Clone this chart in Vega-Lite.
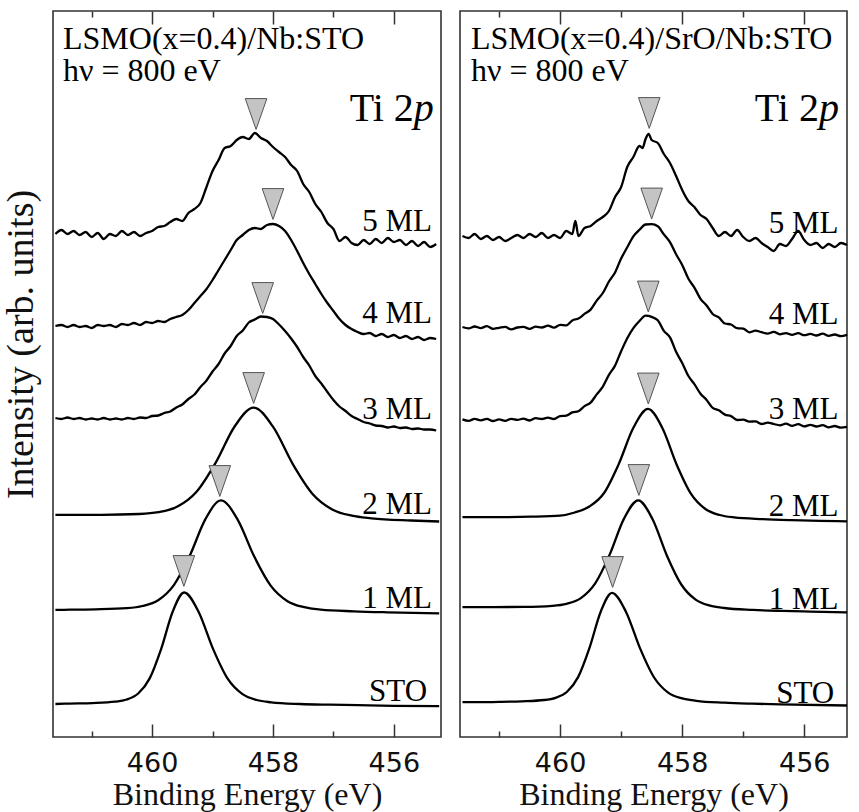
{
"$schema": "https://vega.github.io/schema/vega-lite/v6.json",
"autosize": {"type": "pad"},
"padding": {"left": 1, "top": 9, "right": 5, "bottom": 5},
"background": "white",
"spacing": 17,
"config": {
"view": {"stroke": "#333", "strokeWidth": 1.6},
"axis": {"grid": false, "domain": false, "tickColor": "#333", "tickWidth": 1.5, "labelFont": "DejaVu Sans", "labelFontSize": 27, "labelColor": "#111", "labelFlush": false, "titleFont": "Liberation Serif", "titleFontSize": 32, "titleFontWeight": "normal", "titleColor": "#111"}
},
"datasets": {
"curves": [
{"panel":"L","sample":"STO","E":461.6,"I":33.0},{"panel":"L","sample":"STO","E":461.37,"I":33.4},{"panel":"L","sample":"STO","E":460.99,"I":33.9},{"panel":"L","sample":"STO","E":460.61,"I":35.3},{"panel":"L","sample":"STO","E":460.42,"I":37.5},{"panel":"L","sample":"STO","E":460.23,"I":43.5},{"panel":"L","sample":"STO","E":460.04,"I":58.6},{"panel":"L","sample":"STO","E":459.85,"I":88.1},{"panel":"L","sample":"STO","E":459.66,"I":125.3},{"panel":"L","sample":"STO","E":459.47,"I":144.5},{"panel":"L","sample":"STO","E":459.23,"I":125.1},{"panel":"L","sample":"STO","E":458.99,"I":87.9},{"panel":"L","sample":"STO","E":458.75,"I":58.3},{"panel":"L","sample":"STO","E":458.51,"I":43.1},{"panel":"L","sample":"STO","E":458.27,"I":37.0},{"panel":"L","sample":"STO","E":458.03,"I":34.7},{"panel":"L","sample":"STO","E":457.55,"I":33.0},{"panel":"L","sample":"STO","E":457.07,"I":32.3},{"panel":"L","sample":"STO","E":456.59,"I":31.8},{"panel":"L","sample":"STO","E":456.0,"I":31.2},{"panel":"L","sample":"STO","E":455.25,"I":30.9},
{"panel":"L","sample":"1 ML","E":461.6,"I":127.1},{"panel":"L","sample":"1 ML","E":461.46,"I":127.2},{"panel":"L","sample":"1 ML","E":460.94,"I":127.7},{"panel":"L","sample":"1 ML","E":460.42,"I":128.9},{"panel":"L","sample":"1 ML","E":460.16,"I":131.0},{"panel":"L","sample":"1 ML","E":459.9,"I":136.8},{"panel":"L","sample":"1 ML","E":459.64,"I":151.9},{"panel":"L","sample":"1 ML","E":459.38,"I":180.9},{"panel":"L","sample":"1 ML","E":459.12,"I":217.6},{"panel":"L","sample":"1 ML","E":458.86,"I":236.7},{"panel":"L","sample":"1 ML","E":458.585,"I":217.4},{"panel":"L","sample":"1 ML","E":458.31,"I":180.4},{"panel":"L","sample":"1 ML","E":458.035,"I":151.1},{"panel":"L","sample":"1 ML","E":457.76,"I":135.8},{"panel":"L","sample":"1 ML","E":457.485,"I":129.8},{"panel":"L","sample":"1 ML","E":457.21,"I":127.4},{"panel":"L","sample":"1 ML","E":456.66,"I":125.7},{"panel":"L","sample":"1 ML","E":456.11,"I":124.7},{"panel":"L","sample":"1 ML","E":455.25,"I":123.7},
{"panel":"L","sample":"2 ML","E":461.6,"I":222.1},{"panel":"L","sample":"2 ML","E":461.47,"I":222.2},{"panel":"L","sample":"2 ML","E":460.84,"I":222.2},{"panel":"L","sample":"2 ML","E":460.21,"I":223.0},{"panel":"L","sample":"2 ML","E":459.895,"I":224.8},{"panel":"L","sample":"2 ML","E":459.58,"I":230.4},{"panel":"L","sample":"2 ML","E":459.265,"I":245.2},{"panel":"L","sample":"2 ML","E":458.95,"I":274.1},{"panel":"L","sample":"2 ML","E":458.635,"I":310.5},{"panel":"L","sample":"2 ML","E":458.32,"I":329.4},{"panel":"L","sample":"2 ML","E":457.995,"I":309.8},{"panel":"L","sample":"2 ML","E":457.67,"I":272.7},{"panel":"L","sample":"2 ML","E":457.345,"I":243.1},{"panel":"L","sample":"2 ML","E":457.02,"I":227.6},{"panel":"L","sample":"2 ML","E":456.695,"I":221.3},{"panel":"L","sample":"2 ML","E":456.37,"I":218.7},{"panel":"L","sample":"2 ML","E":455.72,"I":216.5},{"panel":"L","sample":"2 ML","E":455.25,"I":215.5},
{"panel":"L","sample":"3 ML","E":461.6,"I":319},{"panel":"L","sample":"3 ML","E":461.5,"I":318},{"panel":"L","sample":"3 ML","E":461.4,"I":319.5},{"panel":"L","sample":"3 ML","E":461.3,"I":318},{"panel":"L","sample":"3 ML","E":461.2,"I":319},{"panel":"L","sample":"3 ML","E":461.1,"I":317.5},{"panel":"L","sample":"3 ML","E":461.0,"I":318.5},{"panel":"L","sample":"3 ML","E":460.9,"I":317.5},{"panel":"L","sample":"3 ML","E":460.8,"I":319},{"panel":"L","sample":"3 ML","E":460.7,"I":317.5},{"panel":"L","sample":"3 ML","E":460.6,"I":318.5},{"panel":"L","sample":"3 ML","E":460.5,"I":317.5},{"panel":"L","sample":"3 ML","E":460.4,"I":319},{"panel":"L","sample":"3 ML","E":460.3,"I":318},{"panel":"L","sample":"3 ML","E":460.2,"I":319.5},{"panel":"L","sample":"3 ML","E":460.1,"I":319},{"panel":"L","sample":"3 ML","E":460.0,"I":321},{"panel":"L","sample":"3 ML","E":459.9,"I":321.5},{"panel":"L","sample":"3 ML","E":459.8,"I":324},{"panel":"L","sample":"3 ML","E":459.7,"I":325.5},{"panel":"L","sample":"3 ML","E":459.6,"I":329.5},{"panel":"L","sample":"3 ML","E":459.5,"I":332.5},{"panel":"L","sample":"3 ML","E":459.4,"I":338},{"panel":"L","sample":"3 ML","E":459.3,"I":342.5},{"panel":"L","sample":"3 ML","E":459.2,"I":350},{"panel":"L","sample":"3 ML","E":459.1,"I":356.5},{"panel":"L","sample":"3 ML","E":459.0,"I":365.5},{"panel":"L","sample":"3 ML","E":458.9,"I":373},{"panel":"L","sample":"3 ML","E":458.8,"I":383.5},{"panel":"L","sample":"3 ML","E":458.7,"I":391},{"panel":"L","sample":"3 ML","E":458.6,"I":401},{"panel":"L","sample":"3 ML","E":458.5,"I":406.5},{"panel":"L","sample":"3 ML","E":458.4,"I":414.5},{"panel":"L","sample":"3 ML","E":458.3,"I":417.5},{"panel":"L","sample":"3 ML","E":458.2,"I":420.5},{"panel":"L","sample":"3 ML","E":458.1,"I":420},{"panel":"L","sample":"3 ML","E":458.0,"I":418},{"panel":"L","sample":"3 ML","E":457.9,"I":412.5},{"panel":"L","sample":"3 ML","E":457.8,"I":406},{"panel":"L","sample":"3 ML","E":457.7,"I":398.5},{"panel":"L","sample":"3 ML","E":457.6,"I":390},{"panel":"L","sample":"3 ML","E":457.5,"I":380},{"panel":"L","sample":"3 ML","E":457.4,"I":371.5},{"panel":"L","sample":"3 ML","E":457.3,"I":361},{"panel":"L","sample":"3 ML","E":457.2,"I":353.5},{"panel":"L","sample":"3 ML","E":457.1,"I":345},{"panel":"L","sample":"3 ML","E":457.0,"I":337},{"panel":"L","sample":"3 ML","E":456.9,"I":330.5},{"panel":"L","sample":"3 ML","E":456.8,"I":326},{"panel":"L","sample":"3 ML","E":456.7,"I":321},{"panel":"L","sample":"3 ML","E":456.6,"I":318},{"panel":"L","sample":"3 ML","E":456.5,"I":315},{"panel":"L","sample":"3 ML","E":456.4,"I":313.5},{"panel":"L","sample":"3 ML","E":456.3,"I":311.5},{"panel":"L","sample":"3 ML","E":456.2,"I":311},{"panel":"L","sample":"3 ML","E":456.1,"I":309.5},{"panel":"L","sample":"3 ML","E":456.0,"I":310.5},{"panel":"L","sample":"3 ML","E":455.9,"I":309},{"panel":"L","sample":"3 ML","E":455.8,"I":309.5},{"panel":"L","sample":"3 ML","E":455.7,"I":308},{"panel":"L","sample":"3 ML","E":455.6,"I":308.5},{"panel":"L","sample":"3 ML","E":455.5,"I":307.5},{"panel":"L","sample":"3 ML","E":455.4,"I":307.5},{"panel":"L","sample":"3 ML","E":455.3,"I":306.5},
{"panel":"L","sample":"4 ML","E":461.6,"I":411},{"panel":"L","sample":"4 ML","E":461.5,"I":412},{"panel":"L","sample":"4 ML","E":461.4,"I":410},{"panel":"L","sample":"4 ML","E":461.3,"I":412},{"panel":"L","sample":"4 ML","E":461.2,"I":410},{"panel":"L","sample":"4 ML","E":461.1,"I":411},{"panel":"L","sample":"4 ML","E":461.0,"I":409},{"panel":"L","sample":"4 ML","E":460.9,"I":412},{"panel":"L","sample":"4 ML","E":460.8,"I":411},{"panel":"L","sample":"4 ML","E":460.7,"I":412},{"panel":"L","sample":"4 ML","E":460.6,"I":410},{"panel":"L","sample":"4 ML","E":460.5,"I":413},{"panel":"L","sample":"4 ML","E":460.4,"I":412},{"panel":"L","sample":"4 ML","E":460.3,"I":414},{"panel":"L","sample":"4 ML","E":460.2,"I":412},{"panel":"L","sample":"4 ML","E":460.1,"I":415},{"panel":"L","sample":"4 ML","E":460.0,"I":414},{"panel":"L","sample":"4 ML","E":459.9,"I":416},{"panel":"L","sample":"4 ML","E":459.8,"I":415},{"panel":"L","sample":"4 ML","E":459.7,"I":418},{"panel":"L","sample":"4 ML","E":459.6,"I":420},{"panel":"L","sample":"4 ML","E":459.5,"I":422},{"panel":"L","sample":"4 ML","E":459.4,"I":427},{"panel":"L","sample":"4 ML","E":459.3,"I":434},{"panel":"L","sample":"4 ML","E":459.2,"I":441},{"panel":"L","sample":"4 ML","E":459.1,"I":448},{"panel":"L","sample":"4 ML","E":459.0,"I":457},{"panel":"L","sample":"4 ML","E":458.9,"I":467},{"panel":"L","sample":"4 ML","E":458.8,"I":477},{"panel":"L","sample":"4 ML","E":458.7,"I":487},{"panel":"L","sample":"4 ML","E":458.6,"I":497},{"panel":"L","sample":"4 ML","E":458.5,"I":502},{"panel":"L","sample":"4 ML","E":458.4,"I":507},{"panel":"L","sample":"4 ML","E":458.3,"I":509},{"panel":"L","sample":"4 ML","E":458.2,"I":508},{"panel":"L","sample":"4 ML","E":458.1,"I":512},{"panel":"L","sample":"4 ML","E":458.0,"I":513},{"panel":"L","sample":"4 ML","E":457.9,"I":511},{"panel":"L","sample":"4 ML","E":457.8,"I":506},{"panel":"L","sample":"4 ML","E":457.7,"I":497},{"panel":"L","sample":"4 ML","E":457.6,"I":486},{"panel":"L","sample":"4 ML","E":457.5,"I":474},{"panel":"L","sample":"4 ML","E":457.4,"I":463},{"panel":"L","sample":"4 ML","E":457.3,"I":453},{"panel":"L","sample":"4 ML","E":457.2,"I":443},{"panel":"L","sample":"4 ML","E":457.1,"I":434},{"panel":"L","sample":"4 ML","E":457.0,"I":426},{"panel":"L","sample":"4 ML","E":456.9,"I":418},{"panel":"L","sample":"4 ML","E":456.8,"I":412},{"panel":"L","sample":"4 ML","E":456.7,"I":408},{"panel":"L","sample":"4 ML","E":456.6,"I":405},{"panel":"L","sample":"4 ML","E":456.5,"I":403},{"panel":"L","sample":"4 ML","E":456.4,"I":404},{"panel":"L","sample":"4 ML","E":456.3,"I":401},{"panel":"L","sample":"4 ML","E":456.2,"I":403},{"panel":"L","sample":"4 ML","E":456.1,"I":400},{"panel":"L","sample":"4 ML","E":456.0,"I":402},{"panel":"L","sample":"4 ML","E":455.9,"I":399},{"panel":"L","sample":"4 ML","E":455.8,"I":401},{"panel":"L","sample":"4 ML","E":455.7,"I":398},{"panel":"L","sample":"4 ML","E":455.6,"I":400},{"panel":"L","sample":"4 ML","E":455.5,"I":397},{"panel":"L","sample":"4 ML","E":455.4,"I":399},{"panel":"L","sample":"4 ML","E":455.3,"I":398},
{"panel":"L","sample":"5 ML","E":461.6,"I":503},{"panel":"L","sample":"5 ML","E":461.5,"I":507},{"panel":"L","sample":"5 ML","E":461.4,"I":503},{"panel":"L","sample":"5 ML","E":461.3,"I":506},{"panel":"L","sample":"5 ML","E":461.2,"I":502},{"panel":"L","sample":"5 ML","E":461.1,"I":505},{"panel":"L","sample":"5 ML","E":461.0,"I":500},{"panel":"L","sample":"5 ML","E":460.9,"I":504},{"panel":"L","sample":"5 ML","E":460.8,"I":498},{"panel":"L","sample":"5 ML","E":460.7,"I":503},{"panel":"L","sample":"5 ML","E":460.6,"I":501},{"panel":"L","sample":"5 ML","E":460.5,"I":506},{"panel":"L","sample":"5 ML","E":460.4,"I":502},{"panel":"L","sample":"5 ML","E":460.3,"I":505},{"panel":"L","sample":"5 ML","E":460.2,"I":501},{"panel":"L","sample":"5 ML","E":460.1,"I":504},{"panel":"L","sample":"5 ML","E":460.0,"I":506},{"panel":"L","sample":"5 ML","E":459.9,"I":510},{"panel":"L","sample":"5 ML","E":459.8,"I":511},{"panel":"L","sample":"5 ML","E":459.7,"I":515},{"panel":"L","sample":"5 ML","E":459.6,"I":518},{"panel":"L","sample":"5 ML","E":459.5,"I":516},{"panel":"L","sample":"5 ML","E":459.4,"I":524},{"panel":"L","sample":"5 ML","E":459.3,"I":528},{"panel":"L","sample":"5 ML","E":459.2,"I":534},{"panel":"L","sample":"5 ML","E":459.1,"I":550},{"panel":"L","sample":"5 ML","E":459.0,"I":566},{"panel":"L","sample":"5 ML","E":458.9,"I":577},{"panel":"L","sample":"5 ML","E":458.8,"I":589},{"panel":"L","sample":"5 ML","E":458.7,"I":591},{"panel":"L","sample":"5 ML","E":458.6,"I":597},{"panel":"L","sample":"5 ML","E":458.5,"I":600},{"panel":"L","sample":"5 ML","E":458.4,"I":598},{"panel":"L","sample":"5 ML","E":458.3,"I":604},{"panel":"L","sample":"5 ML","E":458.2,"I":599},{"panel":"L","sample":"5 ML","E":458.1,"I":596},{"panel":"L","sample":"5 ML","E":458.0,"I":590},{"panel":"L","sample":"5 ML","E":457.9,"I":585},{"panel":"L","sample":"5 ML","E":457.8,"I":580},{"panel":"L","sample":"5 ML","E":457.7,"I":572},{"panel":"L","sample":"5 ML","E":457.6,"I":566},{"panel":"L","sample":"5 ML","E":457.5,"I":553},{"panel":"L","sample":"5 ML","E":457.4,"I":545},{"panel":"L","sample":"5 ML","E":457.3,"I":533},{"panel":"L","sample":"5 ML","E":457.2,"I":525},{"panel":"L","sample":"5 ML","E":457.1,"I":514},{"panel":"L","sample":"5 ML","E":457.0,"I":508},{"panel":"L","sample":"5 ML","E":456.9,"I":496},{"panel":"L","sample":"5 ML","E":456.8,"I":500},{"panel":"L","sample":"5 ML","E":456.7,"I":494},{"panel":"L","sample":"5 ML","E":456.6,"I":492},{"panel":"L","sample":"5 ML","E":456.5,"I":497},{"panel":"L","sample":"5 ML","E":456.4,"I":493},{"panel":"L","sample":"5 ML","E":456.3,"I":498},{"panel":"L","sample":"5 ML","E":456.2,"I":494},{"panel":"L","sample":"5 ML","E":456.1,"I":499},{"panel":"L","sample":"5 ML","E":456.0,"I":495},{"panel":"L","sample":"5 ML","E":455.9,"I":497},{"panel":"L","sample":"5 ML","E":455.8,"I":492},{"panel":"L","sample":"5 ML","E":455.7,"I":496},{"panel":"L","sample":"5 ML","E":455.6,"I":491},{"panel":"L","sample":"5 ML","E":455.5,"I":495},{"panel":"L","sample":"5 ML","E":455.4,"I":490},{"panel":"L","sample":"5 ML","E":455.3,"I":493},
{"panel":"R","sample":"STO","E":461.6,"I":34.8},{"panel":"R","sample":"STO","E":461.37,"I":34.8},{"panel":"R","sample":"STO","E":461.0,"I":35.1},{"panel":"R","sample":"STO","E":460.63,"I":35.7},{"panel":"R","sample":"STO","E":460.26,"I":37.0},{"panel":"R","sample":"STO","E":460.075,"I":39.2},{"panel":"R","sample":"STO","E":459.89,"I":45.0},{"panel":"R","sample":"STO","E":459.705,"I":59.9},{"panel":"R","sample":"STO","E":459.52,"I":88.9},{"panel":"R","sample":"STO","E":459.335,"I":125.3},{"panel":"R","sample":"STO","E":459.15,"I":144.2},{"panel":"R","sample":"STO","E":458.92,"I":125.1},{"panel":"R","sample":"STO","E":458.69,"I":88.6},{"panel":"R","sample":"STO","E":458.46,"I":59.5},{"panel":"R","sample":"STO","E":458.23,"I":44.4},{"panel":"R","sample":"STO","E":458.0,"I":38.6},{"panel":"R","sample":"STO","E":457.77,"I":36.2},{"panel":"R","sample":"STO","E":457.31,"I":34.3},{"panel":"R","sample":"STO","E":456.85,"I":33.3},{"panel":"R","sample":"STO","E":456.39,"I":32.6},{"panel":"R","sample":"STO","E":455.3,"I":31.5},
{"panel":"R","sample":"1 ML","E":461.6,"I":129.8},{"panel":"R","sample":"1 ML","E":461.07,"I":129.9},{"panel":"R","sample":"1 ML","E":460.6,"I":130.1},{"panel":"R","sample":"1 ML","E":460.13,"I":131.2},{"panel":"R","sample":"1 ML","E":459.895,"I":133.2},{"panel":"R","sample":"1 ML","E":459.66,"I":138.9},{"panel":"R","sample":"1 ML","E":459.425,"I":153.6},{"panel":"R","sample":"1 ML","E":459.19,"I":182.1},{"panel":"R","sample":"1 ML","E":458.955,"I":218.1},{"panel":"R","sample":"1 ML","E":458.72,"I":236.7},{"panel":"R","sample":"1 ML","E":458.485,"I":217.7},{"panel":"R","sample":"1 ML","E":458.25,"I":181.3},{"panel":"R","sample":"1 ML","E":458.015,"I":152.5},{"panel":"R","sample":"1 ML","E":457.78,"I":137.4},{"panel":"R","sample":"1 ML","E":457.545,"I":131.4},{"panel":"R","sample":"1 ML","E":457.31,"I":129.0},{"panel":"R","sample":"1 ML","E":456.84,"I":127.1},{"panel":"R","sample":"1 ML","E":456.37,"I":126.1},{"panel":"R","sample":"1 ML","E":455.9,"I":125.4},{"panel":"R","sample":"1 ML","E":455.3,"I":124.6},
{"panel":"R","sample":"2 ML","E":461.6,"I":219.8},{"panel":"R","sample":"2 ML","E":460.96,"I":219.9},{"panel":"R","sample":"2 ML","E":460.48,"I":220.3},{"panel":"R","sample":"2 ML","E":460.0,"I":221.4},{"panel":"R","sample":"2 ML","E":459.76,"I":224.5},{"panel":"R","sample":"2 ML","E":459.52,"I":230.5},{"panel":"R","sample":"2 ML","E":459.28,"I":244.0},{"panel":"R","sample":"2 ML","E":459.04,"I":272.9},{"panel":"R","sample":"2 ML","E":458.8,"I":309.2},{"panel":"R","sample":"2 ML","E":458.56,"I":328.1},{"panel":"R","sample":"2 ML","E":458.325,"I":309.0},{"panel":"R","sample":"2 ML","E":458.09,"I":272.3},{"panel":"R","sample":"2 ML","E":457.855,"I":243.1},{"panel":"R","sample":"2 ML","E":457.62,"I":228.0},{"panel":"R","sample":"2 ML","E":457.385,"I":222.0},{"panel":"R","sample":"2 ML","E":457.15,"I":219.6},{"panel":"R","sample":"2 ML","E":456.68,"I":217.9},{"panel":"R","sample":"2 ML","E":456.21,"I":216.9},{"panel":"R","sample":"2 ML","E":455.74,"I":216.2},{"panel":"R","sample":"2 ML","E":455.3,"I":215.7},
{"panel":"R","sample":"3 ML","E":461.6,"I":317.6},{"panel":"R","sample":"3 ML","E":461.5,"I":316.1},{"panel":"R","sample":"3 ML","E":461.4,"I":318.1},{"panel":"R","sample":"3 ML","E":461.3,"I":316.6},{"panel":"R","sample":"3 ML","E":461.2,"I":318.1},{"panel":"R","sample":"3 ML","E":461.1,"I":316},{"panel":"R","sample":"3 ML","E":461.0,"I":317.6},{"panel":"R","sample":"3 ML","E":460.9,"I":316.1},{"panel":"R","sample":"3 ML","E":460.8,"I":318.2},{"panel":"R","sample":"3 ML","E":460.7,"I":317.2},{"panel":"R","sample":"3 ML","E":460.6,"I":318.3},{"panel":"R","sample":"3 ML","E":460.5,"I":316.5},{"panel":"R","sample":"3 ML","E":460.4,"I":318.8},{"panel":"R","sample":"3 ML","E":460.3,"I":318},{"panel":"R","sample":"3 ML","E":460.2,"I":319.4},{"panel":"R","sample":"3 ML","E":460.1,"I":318},{"panel":"R","sample":"3 ML","E":460.0,"I":320.8},{"panel":"R","sample":"3 ML","E":459.9,"I":321.3},{"panel":"R","sample":"3 ML","E":459.8,"I":324.6},{"panel":"R","sample":"3 ML","E":459.7,"I":325.8},{"panel":"R","sample":"3 ML","E":459.6,"I":330.9},{"panel":"R","sample":"3 ML","E":459.5,"I":334.4},{"panel":"R","sample":"3 ML","E":459.4,"I":342.6},{"panel":"R","sample":"3 ML","E":459.3,"I":350.4},{"panel":"R","sample":"3 ML","E":459.2,"I":362.1},{"panel":"R","sample":"3 ML","E":459.1,"I":371.4},{"panel":"R","sample":"3 ML","E":459.0,"I":385.8},{"panel":"R","sample":"3 ML","E":458.9,"I":398.8},{"panel":"R","sample":"3 ML","E":458.8,"I":408.9},{"panel":"R","sample":"3 ML","E":458.7,"I":416},{"panel":"R","sample":"3 ML","E":458.6,"I":421.4},{"panel":"R","sample":"3 ML","E":458.5,"I":420.1},{"panel":"R","sample":"3 ML","E":458.4,"I":416.7},{"panel":"R","sample":"3 ML","E":458.3,"I":406.1},{"panel":"R","sample":"3 ML","E":458.2,"I":399.7},{"panel":"R","sample":"3 ML","E":458.1,"I":385.2},{"panel":"R","sample":"3 ML","E":458.0,"I":374},{"panel":"R","sample":"3 ML","E":457.9,"I":361.2},{"panel":"R","sample":"3 ML","E":457.8,"I":352.8},{"panel":"R","sample":"3 ML","E":457.7,"I":343.3},{"panel":"R","sample":"3 ML","E":457.6,"I":337.1},{"panel":"R","sample":"3 ML","E":457.5,"I":329.1},{"panel":"R","sample":"3 ML","E":457.4,"I":326.7},{"panel":"R","sample":"3 ML","E":457.3,"I":322.4},{"panel":"R","sample":"3 ML","E":457.2,"I":320.9},{"panel":"R","sample":"3 ML","E":457.1,"I":317},{"panel":"R","sample":"3 ML","E":457.0,"I":317.3},{"panel":"R","sample":"3 ML","E":456.9,"I":315.4},{"panel":"R","sample":"3 ML","E":456.8,"I":315.6},{"panel":"R","sample":"3 ML","E":456.7,"I":313},{"panel":"R","sample":"3 ML","E":456.6,"I":314.4},{"panel":"R","sample":"3 ML","E":456.5,"I":313},{"panel":"R","sample":"3 ML","E":456.4,"I":311.7},{"panel":"R","sample":"3 ML","E":456.3,"I":313.4},{"panel":"R","sample":"3 ML","E":456.2,"I":311.1},{"panel":"R","sample":"3 ML","E":456.1,"I":312.8},{"panel":"R","sample":"3 ML","E":456.0,"I":310.6},{"panel":"R","sample":"3 ML","E":455.9,"I":312.2},{"panel":"R","sample":"3 ML","E":455.8,"I":310.5},{"panel":"R","sample":"3 ML","E":455.7,"I":311.8},{"panel":"R","sample":"3 ML","E":455.6,"I":309.7},{"panel":"R","sample":"3 ML","E":455.5,"I":311},{"panel":"R","sample":"3 ML","E":455.4,"I":309.3},{"panel":"R","sample":"3 ML","E":455.3,"I":310.1},
{"panel":"R","sample":"4 ML","E":461.6,"I":410},{"panel":"R","sample":"4 ML","E":461.5,"I":408.6},{"panel":"R","sample":"4 ML","E":461.4,"I":410.5},{"panel":"R","sample":"4 ML","E":461.3,"I":408.9},{"panel":"R","sample":"4 ML","E":461.2,"I":410.9},{"panel":"R","sample":"4 ML","E":461.1,"I":408.2},{"panel":"R","sample":"4 ML","E":461.0,"I":409.2},{"panel":"R","sample":"4 ML","E":460.9,"I":410.1},{"panel":"R","sample":"4 ML","E":460.8,"I":407.6},{"panel":"R","sample":"4 ML","E":460.7,"I":409.5},{"panel":"R","sample":"4 ML","E":460.6,"I":410.1},{"panel":"R","sample":"4 ML","E":460.5,"I":408.2},{"panel":"R","sample":"4 ML","E":460.4,"I":410.3},{"panel":"R","sample":"4 ML","E":460.3,"I":409.5},{"panel":"R","sample":"4 ML","E":460.2,"I":411.3},{"panel":"R","sample":"4 ML","E":460.1,"I":409.4},{"panel":"R","sample":"4 ML","E":460.0,"I":412.2},{"panel":"R","sample":"4 ML","E":459.9,"I":411.6},{"panel":"R","sample":"4 ML","E":459.8,"I":416.6},{"panel":"R","sample":"4 ML","E":459.7,"I":418.4},{"panel":"R","sample":"4 ML","E":459.6,"I":423.1},{"panel":"R","sample":"4 ML","E":459.5,"I":427.4},{"panel":"R","sample":"4 ML","E":459.4,"I":436.4},{"panel":"R","sample":"4 ML","E":459.3,"I":444},{"panel":"R","sample":"4 ML","E":459.2,"I":455.5},{"panel":"R","sample":"4 ML","E":459.1,"I":464.5},{"panel":"R","sample":"4 ML","E":459.0,"I":478.5},{"panel":"R","sample":"4 ML","E":458.9,"I":489.7},{"panel":"R","sample":"4 ML","E":458.8,"I":500.6},{"panel":"R","sample":"4 ML","E":458.7,"I":507.2},{"panel":"R","sample":"4 ML","E":458.6,"I":512.5},{"panel":"R","sample":"4 ML","E":458.5,"I":512.8},{"panel":"R","sample":"4 ML","E":458.4,"I":510.7},{"panel":"R","sample":"4 ML","E":458.3,"I":502.6},{"panel":"R","sample":"4 ML","E":458.2,"I":494.9},{"panel":"R","sample":"4 ML","E":458.1,"I":482.7},{"panel":"R","sample":"4 ML","E":458.0,"I":472.1},{"panel":"R","sample":"4 ML","E":457.9,"I":458.5},{"panel":"R","sample":"4 ML","E":457.8,"I":449.4},{"panel":"R","sample":"4 ML","E":457.7,"I":438.2},{"panel":"R","sample":"4 ML","E":457.6,"I":431.5},{"panel":"R","sample":"4 ML","E":457.5,"I":423},{"panel":"R","sample":"4 ML","E":457.4,"I":419.6},{"panel":"R","sample":"4 ML","E":457.3,"I":413.5},{"panel":"R","sample":"4 ML","E":457.2,"I":412.5},{"panel":"R","sample":"4 ML","E":457.1,"I":408.8},{"panel":"R","sample":"4 ML","E":457.0,"I":408.3},{"panel":"R","sample":"4 ML","E":456.9,"I":404.7},{"panel":"R","sample":"4 ML","E":456.8,"I":406.4},{"panel":"R","sample":"4 ML","E":456.7,"I":404.8},{"panel":"R","sample":"4 ML","E":456.6,"I":403.4},{"panel":"R","sample":"4 ML","E":456.5,"I":405.1},{"panel":"R","sample":"4 ML","E":456.4,"I":402.7},{"panel":"R","sample":"4 ML","E":456.3,"I":403.9},{"panel":"R","sample":"4 ML","E":456.2,"I":402.2},{"panel":"R","sample":"4 ML","E":456.1,"I":403.9},{"panel":"R","sample":"4 ML","E":456.0,"I":401.8},{"panel":"R","sample":"4 ML","E":455.9,"I":403.1},{"panel":"R","sample":"4 ML","E":455.8,"I":401.5},{"panel":"R","sample":"4 ML","E":455.7,"I":403.3},{"panel":"R","sample":"4 ML","E":455.6,"I":401.2},{"panel":"R","sample":"4 ML","E":455.5,"I":402.5},{"panel":"R","sample":"4 ML","E":455.4,"I":400.8},{"panel":"R","sample":"4 ML","E":455.3,"I":402.1},
{"panel":"R","sample":"5 ML","E":461.6,"I":501},{"panel":"R","sample":"5 ML","E":461.5,"I":499},{"panel":"R","sample":"5 ML","E":461.4,"I":503},{"panel":"R","sample":"5 ML","E":461.3,"I":498},{"panel":"R","sample":"5 ML","E":461.2,"I":501},{"panel":"R","sample":"5 ML","E":461.1,"I":497},{"panel":"R","sample":"5 ML","E":461.0,"I":500},{"panel":"R","sample":"5 ML","E":460.9,"I":496},{"panel":"R","sample":"5 ML","E":460.8,"I":499},{"panel":"R","sample":"5 ML","E":460.7,"I":502},{"panel":"R","sample":"5 ML","E":460.6,"I":499},{"panel":"R","sample":"5 ML","E":460.5,"I":503},{"panel":"R","sample":"5 ML","E":460.4,"I":500},{"panel":"R","sample":"5 ML","E":460.3,"I":504},{"panel":"R","sample":"5 ML","E":460.2,"I":499},{"panel":"R","sample":"5 ML","E":460.1,"I":502},{"panel":"R","sample":"5 ML","E":460.0,"I":499},{"panel":"R","sample":"5 ML","E":459.9,"I":506},{"panel":"R","sample":"5 ML","E":459.8,"I":503},{"panel":"R","sample":"5 ML","E":459.75,"I":516},{"panel":"R","sample":"5 ML","E":459.7,"I":501},{"panel":"R","sample":"5 ML","E":459.6,"I":509},{"panel":"R","sample":"5 ML","E":459.5,"I":511},{"panel":"R","sample":"5 ML","E":459.4,"I":516},{"panel":"R","sample":"5 ML","E":459.3,"I":520},{"panel":"R","sample":"5 ML","E":459.2,"I":526},{"panel":"R","sample":"5 ML","E":459.1,"I":540},{"panel":"R","sample":"5 ML","E":459.0,"I":550},{"panel":"R","sample":"5 ML","E":458.9,"I":570},{"panel":"R","sample":"5 ML","E":458.8,"I":580},{"panel":"R","sample":"5 ML","E":458.7,"I":591},{"panel":"R","sample":"5 ML","E":458.65,"I":589},{"panel":"R","sample":"5 ML","E":458.6,"I":598},{"panel":"R","sample":"5 ML","E":458.55,"I":603},{"panel":"R","sample":"5 ML","E":458.5,"I":597},{"panel":"R","sample":"5 ML","E":458.4,"I":594},{"panel":"R","sample":"5 ML","E":458.3,"I":583},{"panel":"R","sample":"5 ML","E":458.2,"I":574},{"panel":"R","sample":"5 ML","E":458.1,"I":561},{"panel":"R","sample":"5 ML","E":458.0,"I":547},{"panel":"R","sample":"5 ML","E":457.9,"I":536},{"panel":"R","sample":"5 ML","E":457.8,"I":530},{"panel":"R","sample":"5 ML","E":457.7,"I":522},{"panel":"R","sample":"5 ML","E":457.6,"I":518},{"panel":"R","sample":"5 ML","E":457.5,"I":509},{"panel":"R","sample":"5 ML","E":457.4,"I":501},{"panel":"R","sample":"5 ML","E":457.3,"I":505},{"panel":"R","sample":"5 ML","E":457.2,"I":501},{"panel":"R","sample":"5 ML","E":457.1,"I":507},{"panel":"R","sample":"5 ML","E":457.0,"I":500},{"panel":"R","sample":"5 ML","E":456.9,"I":496},{"panel":"R","sample":"5 ML","E":456.8,"I":499},{"panel":"R","sample":"5 ML","E":456.7,"I":494},{"panel":"R","sample":"5 ML","E":456.6,"I":490},{"panel":"R","sample":"5 ML","E":456.5,"I":486},{"panel":"R","sample":"5 ML","E":456.4,"I":493},{"panel":"R","sample":"5 ML","E":456.3,"I":491},{"panel":"R","sample":"5 ML","E":456.2,"I":498},{"panel":"R","sample":"5 ML","E":456.1,"I":506},{"panel":"R","sample":"5 ML","E":456.0,"I":497},{"panel":"R","sample":"5 ML","E":455.9,"I":492},{"panel":"R","sample":"5 ML","E":455.8,"I":494},{"panel":"R","sample":"5 ML","E":455.7,"I":489},{"panel":"R","sample":"5 ML","E":455.6,"I":493},{"panel":"R","sample":"5 ML","E":455.5,"I":490},{"panel":"R","sample":"5 ML","E":455.4,"I":494},{"panel":"R","sample":"5 ML","E":455.3,"I":492}
],
"markers": [
{"panel":"L","sample":"5 ML","E":458.28,"I":623},{"panel":"L","sample":"4 ML","E":458.0,"I":533},{"panel":"L","sample":"3 ML","E":458.17,"I":439},{"panel":"L","sample":"2 ML","E":458.32,"I":349},{"panel":"L","sample":"1 ML","E":458.88,"I":256},{"panel":"L","sample":"STO","E":459.475,"I":166},
{"panel":"R","sample":"5 ML","E":458.54,"I":624},{"panel":"R","sample":"4 ML","E":458.5,"I":533.5},{"panel":"R","sample":"3 ML","E":458.555,"I":440.5},{"panel":"R","sample":"2 ML","E":458.555,"I":348.5},{"panel":"R","sample":"1 ML","E":458.71,"I":257},{"panel":"R","sample":"STO","E":459.14,"I":165}
],
"labels": [
{"panel":"L","text":"5 ML","E":455.37,"I":506},{"panel":"L","text":"4 ML","E":455.37,"I":414},{"panel":"L","text":"3 ML","E":455.37,"I":318},{"panel":"L","text":"2 ML","E":455.37,"I":223},{"panel":"L","text":"1 ML","E":455.37,"I":129},{"panel":"L","text":"STO","E":455.45,"I":36},
{"panel":"R","text":"5 ML","E":455.44,"I":504},{"panel":"R","text":"4 ML","E":455.44,"I":413},{"panel":"R","text":"3 ML","E":455.44,"I":318},{"panel":"R","text":"2 ML","E":455.44,"I":221},{"panel":"R","text":"1 ML","E":455.44,"I":128},{"panel":"R","text":"STO","E":455.51,"I":34}
],
"headers": [
{"panel":"L","text":"LSMO(x=0.4)/Nb:STO","E":461.475,"I":688},{"panel":"L","text":"hν = 800 eV","E":461.475,"I":656},
{"panel":"R","text":"LSMO(x=0.4)/SrO/Nb:STO","E":461.46,"I":688},{"panel":"R","text":"hν = 800 eV","E":461.46,"I":656}
],
"element": [
{"panel":"L","text":"Ti 2","E":455.67,"I":616},{"panel":"R","text":"Ti 2","E":455.76,"I":616}
],
"orbital": [
{"panel":"L","text":"p","E":455.67,"I":616},{"panel":"R","text":"p","E":455.76,"I":616}
]
},
"hconcat": [
{
"width": 388, "height": 726,
"encoding": {"y": {"field": "I", "type": "quantitative", "scale": {"domain": [0, 726], "nice": false, "zero": false}, "axis": {"title": "Intensity (arb. units)", "labels": false, "ticks": false, "domain": false, "titleFontSize": 38, "titlePadding": 13, "titleY": 333}}},
"layer": [
{"data": {"name": "curves"}, "transform": [{"filter": "datum.panel === 'L'"}],
 "mark": {"type": "line", "color": "black", "strokeWidth": 2.3, "interpolate": "monotone", "strokeJoin": "round"},
 "encoding": {"x": {"field": "E", "type": "quantitative", "scale": {"domain": [455.22, 461.64], "reverse": true, "nice": false, "zero": false},
   "axis": {"orient": "bottom", "values": [461, 460, 459, 458, 457, 456], "tickSize": {"condition": {"test": "datum.value % 2 === 0", "value": -13}, "value": -6}, "labelExpr": "datum.value % 2 === 0 ? datum.label : ''", "labelPadding": 26, "title": "Binding Energy (eV)", "titlePadding": 3}},
  "detail": {"field": "sample"}}},
{"data": {"name": "markers"}, "transform": [{"filter": "datum.panel === 'L'"}],
 "mark": {"type": "point", "shape": "M-0.7,-1L0.7,-1L0,1Z", "size": 950, "filled": true, "fill": "#c4c4c4", "stroke": "#555", "strokeWidth": 1, "opacity": 1},
 "encoding": {"x": {"field": "E", "type": "quantitative", "scale": {"domain": [455.22, 461.64], "reverse": true, "nice": false, "zero": false},
   "axis": {"orient": "top", "values": [461, 460, 459, 458, 457, 456], "tickSize": {"condition": {"test": "datum.value % 2 === 0", "value": -13}, "value": -6}, "labels": false, "title": null}}}},
{"data": {"name": "labels"}, "transform": [{"filter": "datum.panel === 'L'"}],
 "mark": {"type": "text", "align": "right", "baseline": "alphabetic", "font": "Liberation Serif", "fontSize": 31, "color": "black"},
 "encoding": {"x": {"field": "E", "type": "quantitative", "axis": null}, "text": {"field": "text"}}},
{"data": {"name": "headers"}, "transform": [{"filter": "datum.panel === 'L'"}],
 "mark": {"type": "text", "align": "left", "baseline": "alphabetic", "font": "Liberation Serif", "fontSize": 32, "color": "black"},
 "encoding": {"x": {"field": "E", "type": "quantitative", "axis": null}, "text": {"field": "text"}}},
{"data": {"name": "element"}, "transform": [{"filter": "datum.panel === 'L'"}],
 "mark": {"type": "text", "align": "right", "baseline": "alphabetic", "font": "Liberation Serif", "fontSize": 40, "color": "black"},
 "encoding": {"x": {"field": "E", "type": "quantitative", "axis": null}, "text": {"field": "text"}}},
{"data": {"name": "orbital"}, "transform": [{"filter": "datum.panel === 'L'"}],
 "mark": {"type": "text", "align": "left", "baseline": "alphabetic", "font": "Liberation Serif", "fontSize": 40, "fontStyle": "italic", "color": "black"},
 "encoding": {"x": {"field": "E", "type": "quantitative", "axis": null}, "text": {"field": "text"}}}
],
"resolve": {"axis": {"x": "independent"}}
},
{
"width": 387, "height": 726,
"encoding": {"y": {"field": "I", "type": "quantitative", "scale": {"domain": [0, 726], "nice": false, "zero": false}, "axis": null}},
"layer": [
{"data": {"name": "curves"}, "transform": [{"filter": "datum.panel === 'R'"}],
 "mark": {"type": "line", "color": "black", "strokeWidth": 2.3, "interpolate": "monotone", "strokeJoin": "round"},
 "encoding": {"x": {"field": "E", "type": "quantitative", "scale": {"domain": [455.3, 461.64], "reverse": true, "nice": false, "zero": false},
   "axis": {"orient": "bottom", "values": [461, 460, 459, 458, 457, 456], "tickSize": {"condition": {"test": "datum.value % 2 === 0", "value": -13}, "value": -6}, "labelExpr": "datum.value % 2 === 0 ? datum.label : ''", "labelPadding": 26, "title": "Binding Energy (eV)", "titlePadding": 3}},
  "detail": {"field": "sample"}}},
{"data": {"name": "markers"}, "transform": [{"filter": "datum.panel === 'R'"}],
 "mark": {"type": "point", "shape": "M-0.7,-1L0.7,-1L0,1Z", "size": 950, "filled": true, "fill": "#c4c4c4", "stroke": "#555", "strokeWidth": 1, "opacity": 1},
 "encoding": {"x": {"field": "E", "type": "quantitative", "scale": {"domain": [455.3, 461.64], "reverse": true, "nice": false, "zero": false},
   "axis": {"orient": "top", "values": [461, 460, 459, 458, 457, 456], "tickSize": {"condition": {"test": "datum.value % 2 === 0", "value": -13}, "value": -6}, "labels": false, "title": null}}}},
{"data": {"name": "labels"}, "transform": [{"filter": "datum.panel === 'R'"}],
 "mark": {"type": "text", "align": "right", "baseline": "alphabetic", "font": "Liberation Serif", "fontSize": 31, "color": "black"},
 "encoding": {"x": {"field": "E", "type": "quantitative", "axis": null}, "text": {"field": "text"}}},
{"data": {"name": "headers"}, "transform": [{"filter": "datum.panel === 'R'"}],
 "mark": {"type": "text", "align": "left", "baseline": "alphabetic", "font": "Liberation Serif", "fontSize": 32, "color": "black"},
 "encoding": {"x": {"field": "E", "type": "quantitative", "axis": null}, "text": {"field": "text"}}},
{"data": {"name": "element"}, "transform": [{"filter": "datum.panel === 'R'"}],
 "mark": {"type": "text", "align": "right", "baseline": "alphabetic", "font": "Liberation Serif", "fontSize": 40, "color": "black"},
 "encoding": {"x": {"field": "E", "type": "quantitative", "axis": null}, "text": {"field": "text"}}},
{"data": {"name": "orbital"}, "transform": [{"filter": "datum.panel === 'R'"}],
 "mark": {"type": "text", "align": "left", "baseline": "alphabetic", "font": "Liberation Serif", "fontSize": 40, "fontStyle": "italic", "color": "black"},
 "encoding": {"x": {"field": "E", "type": "quantitative", "axis": null}, "text": {"field": "text"}}}
],
"resolve": {"axis": {"x": "independent"}}
}
]
}
